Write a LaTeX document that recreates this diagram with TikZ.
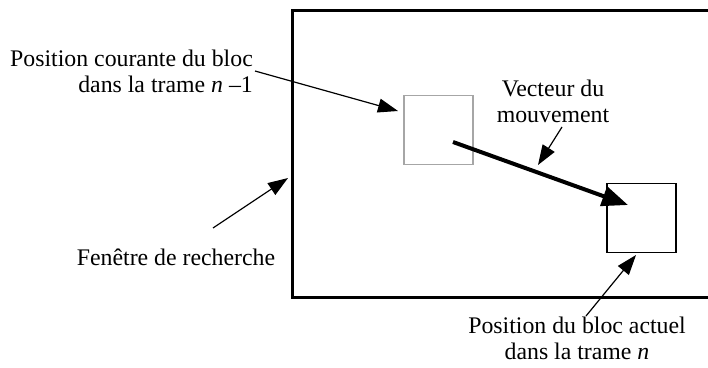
\documentclass[tikz,border=0pt]{standalone}
\usepackage{fontspec}
\setmainfont{Liberation Serif}
\usetikzlibrary{arrows.meta}
\begin{document}
\begin{tikzpicture}[x=1pt,y=-1pt,
  lbl/.style={font=\fontsize{23.8}{25.5}\selectfont, inner sep=0pt},
  pointer/.style={line width=1.2pt, -{Triangle[length=20pt,width=14pt]}},
  motion/.style={line width=4pt, -{Triangle[length=26pt,width=20pt]}},
  frame/.style={line width=3pt},
  oldblock/.style={draw=black!35, line width=1.2pt, minimum size=69pt, inner sep=0pt},
  newblock/.style={draw=black, line width=1.6pt, minimum size=69pt, inner sep=0pt}]
\useasboundingbox (0,0) rectangle (708,367);
% search window (right edge lies outside the picture)
\draw[frame] (716,10) -- (292,10) -- (292,297) -- (716,297);
% blocks
\node[oldblock] (old) at (438.5,130) {};
\node[newblock] (new) at (641.5,218) {};
% labels (base anchor = baseline of the last line)
\node[lbl, align=right, anchor=base east] (lcur) at (253,92) {Position courante du bloc\\dans la trame \textit{n} –1};
\node[lbl, anchor=base] (lwin) at (176,265) {Fenêtre de recherche};
\node[lbl, align=center, anchor=base] (lvec) at (553,122) {Vecteur du\\mouvement};
\node[lbl, align=center, anchor=base] (lact) at (577,359) {Position du bloc actuel\\dans la trame \textit{n}};
% connector ends
\coordinate (a1s) at (255,71);  \coordinate (a1e) at (398,111);
\coordinate (a2s) at (213,228); \coordinate (a2e) at (288,178);
\coordinate (a3s) at (562,127); \coordinate (a3e) at (538,165);
\coordinate (a4s) at (586,316); \coordinate (a4e) at (636,255);
\coordinate (ms) at (453,142);  \coordinate (me) at (628,205);
% connectors
\draw[pointer] (a1s) -- (a1e);
\draw[pointer] (a2s) -- (a2e);
\draw[pointer] (a3s) -- (a3e);
\draw[pointer] (a4s) -- (a4e);
\draw[motion] (ms) -- (me);
\end{tikzpicture}
\end{document}
